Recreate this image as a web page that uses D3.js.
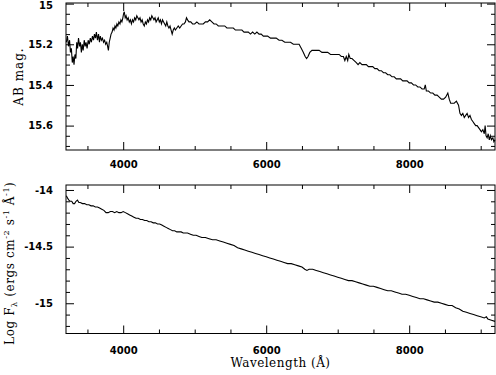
<!DOCTYPE html>
<html>
<head>
<meta charset="utf-8">
<script src="https://cdn.jsdelivr.net/npm/d3@7"></script>
<style>
  body { margin: 0; background: #fff; }
  svg { display: block; }
</style>
</head>
<body>
<div id="chart"></div>
<script>
//----------------------------------
// Data
//----------------------------------
// Top panel: AB magnitude vs wavelength (Angstrom)
const magWave = [3205,3220,3235,3250,3262,3275,3288,3300,3312,3325,3338,3350,3362,3375,3390,3402,3415,3428,3440,3455,
  3468,3480,3495,3510,3525,3540,3555,3570,3585,3598,3612,3625,3640,3655,3668,3680,3695,3710,3725,3740,
  3755,3770,3782,3793,3805,3818,3830,3845,3858,3872,3885,3898,3912,3925,3940,3955,3968,3982,3995,4005,
  4015,4028,4040,4055,4070,4085,4100,4115,4130,4145,4160,4175,4190,4205,4220,4235,4250,4265,4280,4295,
  4310,4325,4340,4355,4370,4385,4400,4415,4430,4445,4460,4475,4490,4505,4520,4535,4550,4565,4580,4595,
  4610,4625,4640,4655,4670,4685,4700,4715,4730,4750,4770,4790,4810,4830,4850,4870,4885,4900,4920,4945,
  4970,5000,5030,5060,5090,5120,5150,5180,5210,5240,5270,5300,5330,5360,5390,5420,5450,5480,5510,5540,
  5570,5600,5630,5660,5690,5720,5750,5780,5810,5840,5870,5900,5930,5960,5990,6020,6060,6100,6140,6180,
  6220,6260,6300,6340,6380,6420,6460,6490,6520,6545,6565,6585,6610,6640,6670,6700,6740,6780,6820,6860,
  6900,6940,6980,7020,7050,7080,7100,7120,7140,7155,7175,7200,7230,7260,7285,7310,7340,7370,7400,7430,
  7460,7490,7520,7550,7580,7610,7640,7670,7700,7730,7760,7790,7820,7850,7880,7910,7940,7970,8000,8030,
  8060,8090,8120,8150,8180,8210,8225,8240,8270,8300,8330,8360,8390,8420,8450,8480,8510,8540,8560,8580,
  8600,8630,8660,8690,8710,8730,8750,8770,8790,8810,8830,8850,8870,8890,8910,8930,8950,8970,8990,9010,
  9030,9050,9062,9075,9090,9105,9120,9135,9150,9170,9185,9200];
const magValues = [15.19,15.16,15.21,15.18,15.24,15.22,15.29,15.26,15.30,15.25,15.27,15.19,15.22,15.17,15.21,15.19,15.24,15.20,15.23,15.18,
  15.21,15.19,15.22,15.18,15.20,15.17,15.19,15.16,15.18,15.15,15.17,15.14,15.18,15.15,15.19,15.16,15.18,15.17,15.19,15.18,
  15.20,15.19,15.21,15.23,15.19,15.17,15.15,15.14,15.12,15.13,15.11,15.12,15.10,15.11,15.09,15.10,15.08,15.09,15.07,15.05,
  15.04,15.07,15.06,15.08,15.07,15.09,15.08,15.10,15.08,15.09,15.07,15.08,15.06,15.07,15.08,15.07,15.09,15.08,15.10,15.11,
  15.09,15.10,15.08,15.09,15.07,15.08,15.06,15.07,15.08,15.07,15.09,15.08,15.07,15.09,15.08,15.10,15.08,15.09,15.10,15.11,
  15.09,15.11,15.12,15.11,15.13,15.15,15.13,15.12,15.13,15.12,15.11,15.12,15.11,15.10,15.10,15.09,15.07,15.08,15.09,15.09,
  15.10,15.10,15.09,15.10,15.10,15.10,15.09,15.09,15.08,15.09,15.10,15.10,15.11,15.11,15.11,15.11,15.12,15.12,15.12,15.12,
  15.13,15.13,15.13,15.13,15.14,15.14,15.14,15.15,15.14,15.15,15.14,15.15,15.15,15.16,15.16,15.16,15.17,15.17,15.17,15.18,
  15.18,15.19,15.19,15.19,15.20,15.20,15.20,15.22,15.24,15.26,15.27,15.26,15.24,15.23,15.23,15.23,15.23,15.24,15.24,15.24,
  15.25,15.25,15.25,15.25,15.26,15.26,15.28,15.26,15.28,15.25,15.27,15.27,15.28,15.29,15.30,15.29,15.30,15.30,15.30,15.31,
  15.31,15.31,15.32,15.32,15.33,15.33,15.34,15.34,15.35,15.35,15.36,15.36,15.37,15.37,15.37,15.38,15.38,15.38,15.39,15.39,
  15.40,15.40,15.41,15.41,15.42,15.42,15.40,15.43,15.43,15.44,15.44,15.45,15.45,15.46,15.47,15.47,15.46,15.44,15.47,15.49,
  15.49,15.49,15.48,15.50,15.54,15.55,15.54,15.56,15.55,15.54,15.56,15.55,15.57,15.58,15.59,15.60,15.60,15.61,15.62,15.63,
  15.62,15.64,15.60,15.65,15.66,15.64,15.67,15.65,15.67,15.66,15.68,15.67];

// Bottom panel: log F_lambda vs wavelength
const fluxWave = [3205,3220,3240,3260,3280,3300,3320,3340,3360,3380,3400,3430,3460,3490,3520,3550,3580,3610,3640,3670,
  3700,3730,3760,3790,3820,3850,3880,3910,3940,3970,4000,4030,4060,4090,4120,4150,4180,4210,4240,4270,
  4300,4330,4360,4390,4420,4450,4480,4510,4540,4570,4600,4630,4660,4690,4720,4750,4780,4810,4840,4870,
  4900,4940,4980,5020,5060,5100,5150,5200,5250,5300,5350,5400,5450,5500,5550,5600,5650,5700,5750,5800,
  5850,5900,5950,6000,6050,6100,6150,6200,6250,6300,6350,6400,6450,6500,6540,6570,6600,6650,6700,6750,
  6800,6850,6900,6950,7000,7050,7100,7150,7200,7250,7300,7350,7400,7450,7500,7550,7600,7650,7700,7750,
  7800,7850,7900,7950,8000,8050,8100,8150,8200,8250,8300,8350,8400,8450,8500,8550,8600,8650,8700,8750,
  8800,8850,8900,8950,9000,9050,9080,9100,9150,9200];
const fluxValues = [-14.05,-14.07,-14.09,-14.10,-14.10,-14.12,-14.12,-14.10,-14.09,-14.11,-14.11,-14.12,-14.12,-14.13,-14.13,-14.14,-14.14,-14.15,-14.15,-14.16,
  -14.17,-14.18,-14.20,-14.20,-14.19,-14.19,-14.20,-14.19,-14.20,-14.20,-14.19,-14.20,-14.21,-14.22,-14.23,-14.24,-14.25,-14.25,-14.26,-14.26,
  -14.27,-14.27,-14.28,-14.28,-14.29,-14.29,-14.30,-14.30,-14.31,-14.32,-14.33,-14.34,-14.35,-14.36,-14.36,-14.37,-14.37,-14.37,-14.38,-14.38,
  -14.38,-14.39,-14.40,-14.40,-14.41,-14.42,-14.42,-14.43,-14.44,-14.44,-14.45,-14.46,-14.47,-14.48,-14.49,-14.51,-14.52,-14.53,-14.54,-14.55,
  -14.56,-14.57,-14.58,-14.59,-14.60,-14.61,-14.62,-14.63,-14.64,-14.65,-14.65,-14.66,-14.67,-14.68,-14.70,-14.71,-14.70,-14.70,-14.71,-14.72,
  -14.73,-14.74,-14.75,-14.76,-14.77,-14.78,-14.79,-14.80,-14.80,-14.81,-14.82,-14.83,-14.84,-14.85,-14.85,-14.86,-14.87,-14.88,-14.89,-14.89,
  -14.90,-14.91,-14.92,-14.92,-14.93,-14.94,-14.95,-14.96,-14.96,-14.97,-14.98,-14.99,-14.99,-15.00,-15.01,-15.02,-15.02,-15.04,-15.05,-15.07,
  -15.08,-15.09,-15.10,-15.11,-15.12,-15.13,-15.12,-15.14,-15.15,-15.16];

// Tick values
const xMajorTicks = [4000, 6000, 8000];
const xMinorTicks = [3500, 4500, 5000, 5500, 6500, 7000, 7500, 8500, 9000];
const magMajorTicks = [15, 15.2, 15.4, 15.6];
const magMinorTicks = [15.05, 15.1, 15.15, 15.25, 15.3, 15.35, 15.45, 15.5, 15.55, 15.65, 15.7];
const fluxMajorTicks = [-14, -14.5, -15];
const fluxMinorTicks = [-14.1, -14.2, -14.3, -14.4, -14.6, -14.7, -14.8, -14.9, -15.1, -15.2];

//----------------------------------
// SVG Section
//----------------------------------
const W = 496, H = 375;
const left = 66, right = 495;

const svg = d3.select("#chart")
    .append("svg")
    .attr("width", W)
    .attr("height", H);

const xScale = d3.scaleLinear().domain([3200, 9200]).range([left, right]);

const tickFont = "'DejaVu Sans', sans-serif";
const titleFont = "'DejaVu Serif', serif";
const fmt = d => String(+d.toFixed(2));

function drawPanel(top, bottom, yScale, yMajor, yMinor, wave, vals, xPad) {
    const g = svg.append("g");

    // ticks on all four sides, pointing inward
    const sides = [
        [d3.axisBottom, xScale, `translate(0,${bottom})`, xMajorTicks, xMinorTicks],
        [d3.axisTop, xScale, `translate(0,${top})`, xMajorTicks, xMinorTicks],
        [d3.axisLeft, yScale, `translate(${left},0)`, yMajor, yMinor],
        [d3.axisRight, yScale, `translate(${right},0)`, yMajor, yMinor]
    ];
    sides.forEach(([axisFn, sc, tr, major, minor]) => {
        [[major, 8], [minor, 4]].forEach(([vals, len]) => {
            g.append("g")
                .attr("transform", tr)
                .call(axisFn(sc).tickValues(vals).tickSize(-len).tickSizeOuter(0).tickFormat(""))
                .call(a => a.select(".domain").remove())
                .call(a => a.selectAll("line").attr("stroke", "#000").attr("stroke-width", 1));
        });
    });

    // frame
    g.append("rect")
        .attr("x", left)
        .attr("y", top)
        .attr("width", right - left)
        .attr("height", bottom - top)
        .attr("fill", "none")
        .attr("stroke", "#000")
        .attr("stroke-width", 1);

    // tick labels
    g.append("g")
        .attr("transform", `translate(0,${bottom})`)
        .call(d3.axisBottom(xScale).tickValues(xMajorTicks).tickSize(0).tickPadding(xPad).tickFormat(d3.format("d")))
        .call(a => a.select(".domain").remove());
    g.append("g")
        .attr("class", "ylabels")
        .attr("transform", `translate(${left},0)`)
        .call(d3.axisLeft(yScale).tickValues(yMajor).tickSize(0).tickPadding(13).tickFormat(fmt))
        .call(a => a.select(".domain").remove());
    g.selectAll(".tick text")
        .attr("font-family", tickFont)
        .attr("font-weight", "bold")
        .attr("font-size", 10)
        .attr("fill", "#000");

    // spectrum
    const pts = wave.map((w, i) => [w, vals[i]]);
    g.append("path")
        .datum(pts)
        .attr("fill", "none")
        .attr("stroke", "#000")
        .attr("stroke-width", 1.1)
        .attr("d", d3.line()
            .x(d => xScale(d[0]))
            .y(d => yScale(d[1]))
        );
    return g;
}

// Top panel: AB mag (brighter at top)
const magTop = 3, magBottom = 150;
const magScale = d3.scaleLinear().domain([14.997, 15.72]).range([magTop, magBottom]);
const topPanel = drawPanel(magTop, magBottom, magScale, magMajorTicks, magMinorTicks, magWave, magValues, 11);

// keep the "15" label at the very top inside the picture
topPanel.selectAll(".ylabels .tick text")
    .filter(d => d === 15)
    .attr("y", 2);

// Bottom panel: log flux
const fluxTop = 185, fluxBottom = 333.5;
const fluxScale = d3.scaleLinear().domain([-13.956, -15.267]).range([fluxTop, fluxBottom]);
drawPanel(fluxTop, fluxBottom, fluxScale, fluxMajorTicks, fluxMinorTicks, fluxWave, fluxValues, 13);

// Axis titles
svg.append("text")
    .attr("transform", `translate(23,${(magTop + magBottom) / 2}) rotate(-90)`)
    .attr("text-anchor", "middle")
    .attr("font-family", titleFont)
    .attr("font-size", 12)
    .attr("letter-spacing", 1)
    .text("AB mag.");

const fl = svg.append("text")
    .attr("transform", `translate(14,${(fluxTop + fluxBottom) / 2 + 4}) rotate(-90)`)
    .attr("text-anchor", "middle")
    .attr("font-family", titleFont)
    .attr("font-size", 12)
    .attr("letter-spacing", 0.6);
fl.append("tspan").text("Log F");
fl.append("tspan").attr("dy", 3).attr("font-size", 8).text("λ");
fl.append("tspan").attr("dy", -3).text(" (ergs cm");
fl.append("tspan").attr("dy", -5).attr("font-size", 8).text("-2");
fl.append("tspan").attr("dy", 5).text(" s");
fl.append("tspan").attr("dy", -5).attr("font-size", 8).text("-1");
fl.append("tspan").attr("dy", 5).text(" Å");
fl.append("tspan").attr("dy", -5).attr("font-size", 8).text("-1");
fl.append("tspan").attr("dy", 5).text(")");

svg.append("text")
    .attr("x", (left + right) / 2)
    .attr("y", 367)
    .attr("text-anchor", "middle")
    .attr("font-family", titleFont)
    .attr("font-size", 12)
    .attr("letter-spacing", 0.5)
    .text("Wavelength (Å)");
</script>
</body>
</html>
